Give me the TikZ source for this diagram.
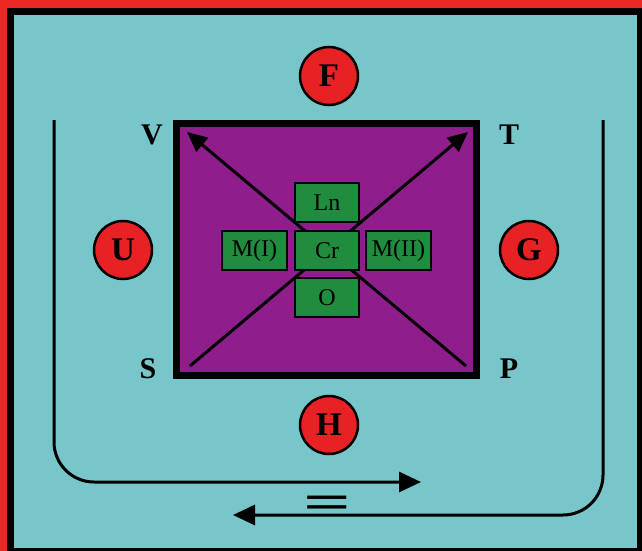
\documentclass[tikz,border=0pt]{standalone}
\usepackage{fontspec}
\setmainfont{Liberation Serif}
\usetikzlibrary{arrows.meta}
\definecolor{bordred}{RGB}{236,40,36}
\definecolor{bgcyan}{RGB}{120,198,202}
\definecolor{sqpurple}{RGB}{142,30,140}
\definecolor{boxgreen}{RGB}{32,140,62}
\definecolor{circred}{RGB}{232,34,36}
\tikzset{
  greenbox/.style={draw=black, line width=1.5pt, fill=boxgreen, minimum height=39pt, inner sep=0pt, font=\fontsize{24}{24}\selectfont},
  redcirc/.style={draw=black, line width=2.5pt, fill=circred, circle, minimum size=58pt, inner sep=0pt, font=\fontsize{33}{33}\selectfont\bfseries},
  cornerlbl/.style={font=\fontsize{30}{30}\selectfont\bfseries, inner sep=0pt},
  bigarrow/.style={line width=3pt, -{Triangle[length=20pt,width=18pt]}},
  loopline/.style={line width=3pt, rounded corners=40pt, -{Triangle[length=22pt,width=20pt]}}
}
\begin{document}
\begin{tikzpicture}[x=1pt,y=-1pt]
\useasboundingbox (0,0) rectangle (642,551);
% frame
\fill[bordred] (0,0) rectangle (642,551);
\fill[black] (7,8) rectangle (642,551);
\fill[bgcyan] (14,15) rectangle (637,548);
% square
\draw[line width=7pt, fill=sqpurple] (176.5,123.5) rectangle (476.5,375.5);
% diagonal arrows
\coordinate (bl) at (190,366);
\coordinate (tr) at (468,132);
\coordinate (br) at (466,366);
\coordinate (tl) at (187,132);
\draw[bigarrow] (bl) -- (tr);
\draw[bigarrow] (br) -- (tl);
% green boxes
\node[greenbox, minimum width=64pt] (ln) at (327,202.5) {Ln};
\node[greenbox, minimum width=64pt] (cr) at (327,250.5) {Cr};
\node[greenbox, minimum width=64pt] (o) at (327,297.5) {O};
\node[greenbox, minimum width=65pt] (m1) at (254.5,250.5) {M(I)};
\node[greenbox, minimum width=65pt] (m2) at (398.5,250.5) {M(II)};
% red circles
\node[redcirc] (f) at (329,76) {F};
\node[redcirc] (u) at (123,250) {U};
\node[redcirc] (g) at (529,250) {G};
\node[redcirc] (h) at (329,425) {H};
% corner labels
\node[cornerlbl] (v) at (152,135) {V};
\node[cornerlbl] (t) at (509,135) {T};
\node[cornerlbl] (s) at (148,369) {S};
\node[cornerlbl] (p) at (509,369) {P};
% loop arrows
\coordinate (la) at (54,120);
\coordinate (lb) at (54,482);
\coordinate (lc) at (421,482);
\coordinate (ra) at (603,120);
\coordinate (rb) at (603,515);
\coordinate (rc) at (233,515);
\draw[loopline] (la) -- (lb) -- (lc);
\draw[loopline] (ra) -- (rb) -- (rc);
\node[inner sep=0pt] (eq) at (327,507) {\scalebox{1.4}[0.8]{\fontsize{60}{60}\selectfont\bfseries =}};
\end{tikzpicture}
\end{document}
